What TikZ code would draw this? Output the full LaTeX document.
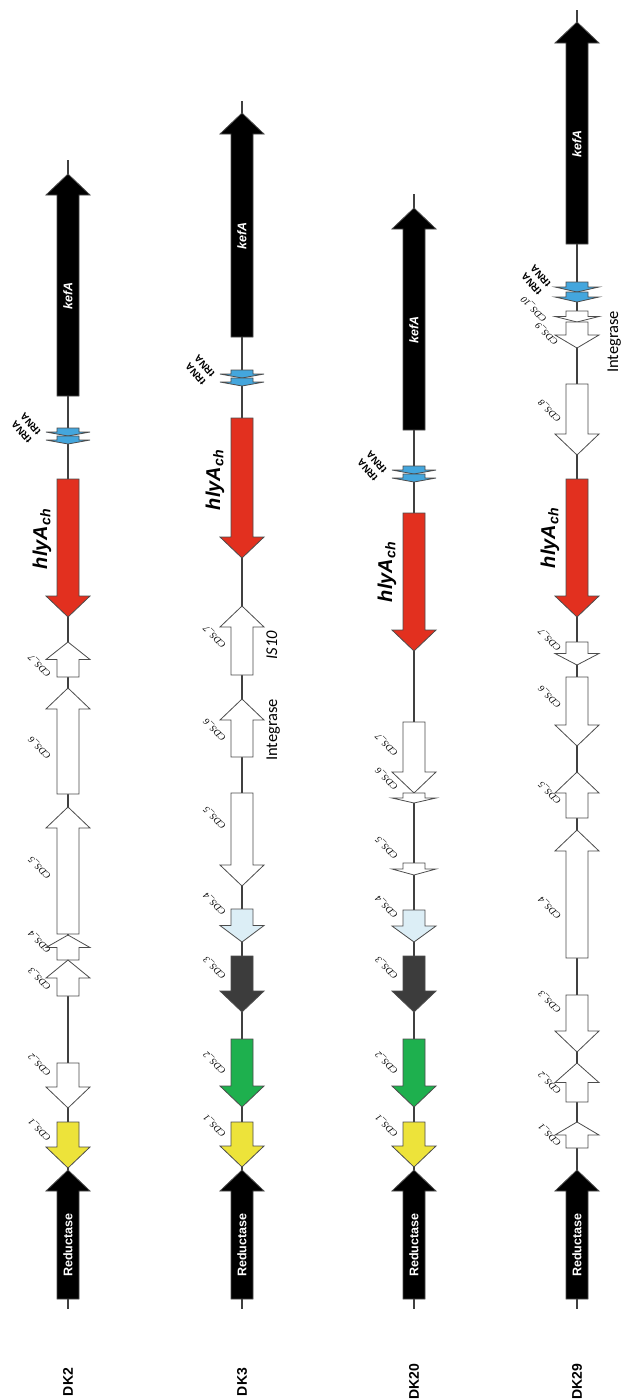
\documentclass[tikz,border=0pt]{standalone}
\usepackage{fontspec}
\setmainfont{Liberation Serif}
\newfontfamily\arialf{Liberation Sans}
\newfontfamily\calib{Carlito}
\definecolor{hred}{HTML}{E2301F}
\definecolor{cyel}{HTML}{EDE33A}
\definecolor{cgrn}{HTML}{1EB04E}
\definecolor{cdark}{HTML}{3C3C3C}
\definecolor{clblue}{HTML}{DCEEF6}
\definecolor{trna}{HTML}{44A6DD}
\tikzset{
  backbone/.style={draw=black!75, line width=1.1pt},
  geneout/.style={draw=black!70, line width=0.8pt, line join=miter},
  cdslab/.style={font=\fontsize{9.5}{10}\selectfont\itshape, rotate=135, inner sep=0pt},
  dklab/.style={font=\arialf\bfseries\fontsize{14}{16}\selectfont, rotate=90, inner sep=0pt},
  redlab/.style={font=\arialf\bfseries\fontsize{12.5}{14}\selectfont, text=white, rotate=90, inner sep=0pt},
  keflab/.style={font=\arialf\bfseries\itshape\fontsize{12.5}{14}\selectfont, text=white, rotate=90, inner sep=0pt},
  hlylab/.style={font=\arialf\bfseries\itshape\fontsize{20}{24}\selectfont, rotate=90, inner sep=0pt},
  trnalab/.style={font=\arialf\bfseries\fontsize{10}{12}\selectfont, rotate=131, inner sep=0pt},
  intlab/.style={font=\calib\fontsize{16.5}{18}\selectfont, rotate=90, anchor=base, inner sep=0pt},
}
\newcommand\gene[4]{%
  \pgfmathsetmacro\gL{abs(#3-#2)}%
  \pgfmathsetmacro\gH{min(21,\gL/2)}%
  \pgfmathsetmacro\gS{sign(#3-#2)}%
  \pgfmathsetmacro\gY{#3-\gS*\gH}%
  \filldraw[geneout, fill=#4] (#1-11,#2) -- (#1-11,\gY) -- (#1-22,\gY) -- (#1,#3) -- (#1+22,\gY) -- (#1+11,\gY) -- (#1+11,#2) -- cycle;}
\newcommand\cds[4]{\node[cdslab] (#1) at (#2,#3) {CDS\_#4};}
% two tRNA labels, stacked across the slanted text: name, x, y (centre of the pair)
\newcommand\trnapair[3]{%
  \node[trnalab] (#1a) at (#2-4.5,#3+3.9) {tRNA};
  \node[trnalab] (#1b) at (#2+4.5,#3-3.9) {tRNA};}
\begin{document}
\begin{tikzpicture}[x=1pt,y=-1pt]
\useasboundingbox (0,0) rectangle (623,1400);
% ---------------- DK2 ----------------
\draw[backbone] (68,160) -- (68,1309);
\gene{68}{396}{174}{black}
\gene{68}{428}{436}{trna}
\gene{68}{436}{444}{trna}
\gene{68}{479}{617}{hred}
\gene{68}{677}{642}{white}
\gene{68}{794}{688}{white}
\gene{68}{934}{807}{white}
\gene{68}{960}{935}{white}
\gene{68}{996}{960}{white}
\gene{68}{1063}{1108}{white}
\gene{68}{1122}{1168}{cyel}
\gene{68}{1299}{1170}{black}
\node[keflab] (kef2) at (68,296) {kefA};
\trnapair{tr2}{26}{428}
\node[hlylab] (hly2) at (42,539) {hlyA\textsubscript{ch}};
\cds{a7}{40}{666}{7}
\cds{a6}{40}{748}{6}
\cds{a5}{40}{868}{5}
\cds{a4}{40}{942}{4}
\cds{a3}{40}{979}{3}
\cds{a2}{40}{1065}{2}
\cds{a1}{40}{1130}{1}
\node[redlab] (red2) at (68,1245) {Reductase};
\node[dklab] (dk2) at (68,1382) {DK2};
% ---------------- DK3 ----------------
\draw[backbone] (242,101) -- (242,1309);
\gene{242}{337}{113}{black}
\gene{242}{370}{378}{trna}
\gene{242}{378}{386}{trna}
\gene{242}{418}{558}{hred}
\gene{242}{675}{606}{white}
\gene{242}{757}{699}{white}
\gene{242}{793}{886}{white}
\gene{242}{909}{942}{clblue}
\gene{242}{956}{1012}{cdark}
\gene{242}{1039}{1107}{cgrn}
\gene{242}{1122}{1167}{cyel}
\gene{242}{1299}{1170}{black}
\node[keflab] (kef3) at (242,236) {kefA};
\trnapair{tr3}{200}{370}
\node[hlylab] (hly3) at (215,480) {hlyA\textsubscript{ch}};
\cds{b7}{215}{637}{7}
\cds{b6}{215}{730}{6}
\cds{b5}{215}{818}{5}
\cds{b4}{215}{904}{4}
\cds{b3}{215}{968}{3}
\cds{b2}{215}{1063}{2}
\cds{b1}{215}{1126}{1}
\node[intlab,font=\calib\itshape\fontsize{16.5}{18}\selectfont] (is10) at (277,645) {IS10};
\node[intlab] (int3) at (277,730) {Integrase};
\node[redlab] (red3) at (242,1245) {Reductase};
\node[dklab] (dk3) at (242,1382) {DK3};
% ---------------- DK20 ----------------
\draw[backbone] (414,194) -- (414,1309);
\gene{414}{430}{208}{black}
\gene{414}{466}{474}{trna}
\gene{414}{474}{482}{trna}
\gene{414}{513}{651}{hred}
\gene{414}{722}{793}{white}
\gene{414}{793}{803}{white}
\gene{414}{863}{875}{white}
\gene{414}{910}{942}{clblue}
\gene{414}{956}{1012}{cdark}
\gene{414}{1039}{1107}{cgrn}
\gene{414}{1122}{1167}{cyel}
\gene{414}{1299}{1170}{black}
\node[keflab] (kef20) at (414,330) {kefA};
\trnapair{tr20}{372}{466}
\node[hlylab] (hly20) at (387,572) {hlyA\textsubscript{ch}};
\cds{c7}{387}{745}{7}
\cds{c6}{387}{779}{6}
\cds{c5}{387}{848}{5}
\cds{c4}{387}{907}{4}
\cds{c3}{387}{968}{3}
\cds{c2}{387}{1063}{2}
\cds{c1}{387}{1126}{1}
\node[redlab] (red20) at (414,1245) {Reductase};
\node[dklab] (dk20) at (414,1382) {DK20};
% ---------------- DK29 ----------------
\draw[backbone] (577,10) -- (577,1309);
\gene{577}{244}{22}{black}
\gene{577}{282}{292}{trna}
\gene{577}{292}{302}{trna}
\gene{577}{311}{322}{white}
\gene{577}{322}{348}{white}
\gene{577}{384}{455}{white}
\gene{577}{479}{617}{hred}
\gene{577}{642}{665}{white}
\gene{577}{677}{746}{white}
\gene{577}{818}{772}{white}
\gene{577}{958}{830}{white}
\gene{577}{995}{1052}{white}
\gene{577}{1102}{1063}{white}
\gene{577}{1148}{1122}{white}
\gene{577}{1299}{1170}{black}
\node[keflab] (kef29) at (577,144) {kefA};
\trnapair{tr29}{536}{280}
\node[hlylab] (hly29) at (550,538) {hlyA\textsubscript{ch}};
\cds{d10}{534}{309}{10}
\cds{d9}{547}{334}{9}
\cds{d8}{550}{411}{8}
\cds{d7}{550}{640}{7}
\cds{d6}{550}{697}{6}
\cds{d5}{550}{793}{5}
\cds{d4}{550}{908}{4}
\cds{d3}{550}{1002}{3}
\cds{d2}{550}{1083}{2}
\cds{d1}{550}{1135}{1}
\node[intlab] (int29) at (618,342) {Integrase};
\node[redlab] (red29) at (577,1245) {Reductase};
\node[dklab] (dk29) at (577,1382) {DK29};
\end{tikzpicture}
\end{document}
